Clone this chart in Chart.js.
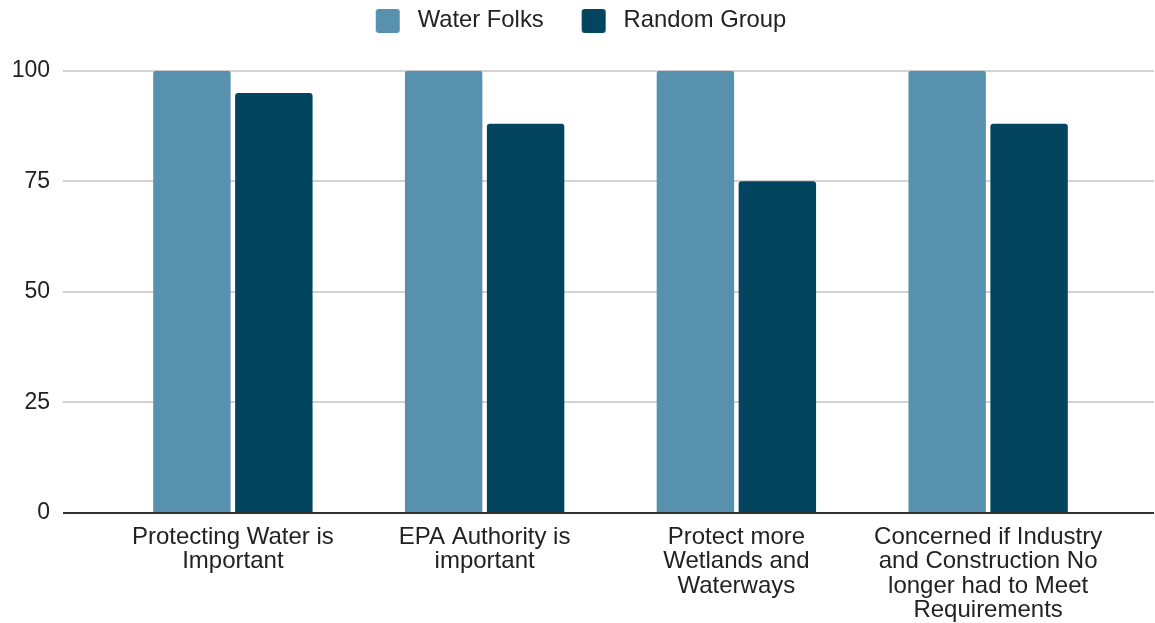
<!DOCTYPE html>
<html>
<head>
<meta charset="utf-8">
<script src="https://cdn.jsdelivr.net/npm/chart.js@4/dist/chart.umd.min.js"></script>
<style>
  html, body { margin: 0; padding: 0; background: #ffffff; }
  #wrap { width: 1155px; height: 623px; }
</style>
</head>
<body>
<div id="wrap"><canvas id="chart" width="1155" height="623"></canvas></div>
<script>
// Survey statements (multi-line axis labels)
const categories = [
  ["Protecting Water is", "Important"],
  ["EPA Authority is", "important"],
  ["Protect more", "Wetlands and", "Waterways"],
  ["Concerned if Industry", "and Construction No", "longer had to Meet", "Requirements"]
];

// Percent agreeing, per group
const waterFolks = [100, 100, 100, 100];
const randomGroup = [95, 88, 75, 88];

// Value axis ticks
const yTicks = [0, 25, 50, 75, 100];

const FONT = "'Liberation Sans', Arial, Helvetica, sans-serif";
const LIGHT = '#5891ae';
const DARK = '#03445f';
const GRID = '#d3d3d3';
const BASE = '#333333';

const gridColor = (c) => (c.tick && c.tick.value === 0 ? BASE : GRID);

// Legend swatch: rounded square with spacing on either side
const SW_LEFT = 29, SW_SIZE = 24, SW_RIGHT = 6;
function makeSwatch(color) {
  const c = document.createElement('canvas');
  c.width = SW_LEFT + SW_SIZE + SW_RIGHT;
  c.height = SW_SIZE;
  const g = c.getContext('2d');
  g.fillStyle = color;
  g.beginPath();
  if (g.roundRect) {
    g.roundRect(SW_LEFT, 0, SW_SIZE, SW_SIZE, 3);
  } else {
    g.rect(SW_LEFT, 0, SW_SIZE, SW_SIZE);
  }
  g.fill();
  return c;
}
const swatches = [makeSwatch(LIGHT), makeSwatch(DARK)];

new Chart(document.getElementById('chart'), {
  type: 'bar',
  data: {
    labels: categories,
    datasets: [
      {
        label: 'Water Folks',
        data: waterFolks,
        backgroundColor: LIGHT,
        xAxisID: 'x',
        yAxisID: 'y',
        borderRadius: 3,
        borderSkipped: 'start',
        barPercentage: 0.945,
        categoryPercentage: 0.651
      },
      {
        label: 'Random Group',
        data: randomGroup,
        backgroundColor: DARK,
        xAxisID: 'x',
        yAxisID: 'y',
        borderRadius: 3,
        borderSkipped: 'start',
        barPercentage: 0.945,
        categoryPercentage: 0.651
      }
    ]
  },
  options: {
    responsive: false,
    animation: false,
    layout: { padding: { left: 0, top: 0, bottom: 0, right: 22 } },
    plugins: {
      tooltip: { enabled: false },
      legend: {
        position: 'top',
        labels: {
          usePointStyle: true,
          pointStyleWidth: SW_LEFT + SW_SIZE + SW_RIGHT,
          boxHeight: 24,
          padding: 9,
          color: '#222222',
          font: { family: FONT, size: 23.8, lineHeight: 1.0 },
          generateLabels: (chart) =>
            Chart.defaults.plugins.legend.labels.generateLabels(chart)
              .map((item, i) => Object.assign(item, { pointStyle: swatches[i] }))
        }
      }
    },
    scales: {
      x: {
        type: 'category',
        position: 'bottom',
        offset: true,
        grid: { display: false, drawTicks: false },
        border: { display: false },
        ticks: {
          color: '#222222',
          padding: 12,
          maxRotation: 0,
          autoSkip: false,
          font: { family: FONT, size: 24, lineHeight: 1.02 }
        },
        afterFit: (s) => { s.height = 110; }
      },
      xTop: {
        type: 'category',
        position: 'top',
        grid: { display: false, drawTicks: false },
        border: { display: false },
        ticks: { display: false },
        afterFit: (s) => { s.height = 28; }
      },
      y: {
        type: 'linear',
        position: 'left',
        min: 0,
        max: 100,
        afterBuildTicks: (s) => { s.ticks = yTicks.map(v => ({ value: v })); },
        grid: { color: gridColor, lineWidth: 2, tickLength: 44 },
        border: { display: false },
        ticks: {
          color: '#222222',
          padding: 13,
          font: { family: FONT, size: 23 }
        },
        afterFit: (s) => { s.width = 107; }
      },
      yRight: {
        type: 'linear',
        position: 'right',
        min: 0,
        max: 100,
        afterBuildTicks: (s) => { s.ticks = yTicks.map(v => ({ value: v })); },
        grid: { color: gridColor, lineWidth: 2, tickLength: 40, drawOnChartArea: false },
        border: { display: false },
        ticks: { display: false },
        afterFit: (s) => { s.width = 19; }
      }
    }
  }
});
</script>
</body>
</html>
